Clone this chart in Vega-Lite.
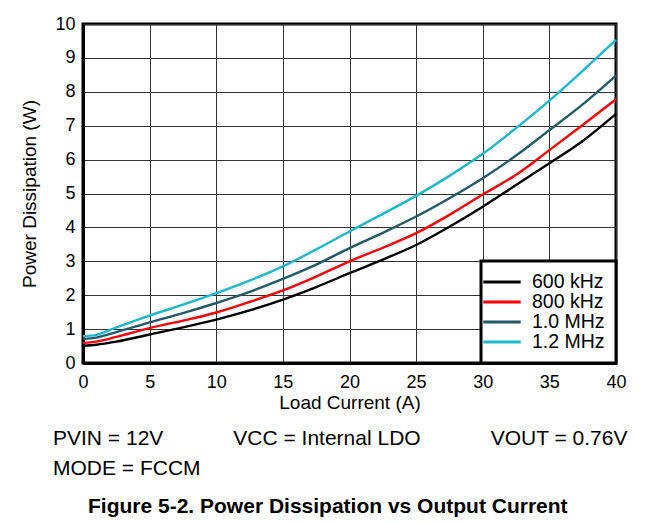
{
  "$schema": "https://vega.github.io/schema/vega-lite/v6.json",
  "width": 533,
  "height": 339,
  "padding": {"left": 20, "top": 15, "right": 30, "bottom": 5},
  "background": "white",
  "config": {
    "font": "Liberation Sans",
    "view": {"stroke": "black", "strokeWidth": 3},
    "axis": {
      "domainColor": "black",
      "domainWidth": 3,
      "gridColor": "#333333",
      "gridWidth": 1,
      "gridOpacity": 1,
      "ticks": false,
      "labelColor": "black",
      "labelFontSize": 18,
      "titleColor": "black",
      "titleFontSize": 19,
      "titleFontWeight": "normal",
      "labelFont": "Liberation Sans",
      "titleFont": "Liberation Sans"
    }
  },
  "title": {
    "text": ["PVIN = 12V\u00a0\u00a0\u00a0\u00a0\u00a0\u00a0\u00a0\u00a0\u00a0\u00a0\u00a0\u00a0VCC = Internal LDO\u00a0\u00a0\u00a0\u00a0\u00a0\u00a0\u00a0\u00a0\u00a0\u00a0\u00a0\u00a0VOUT = 0.76V", "MODE = FCCM"],
    "subtitle": "\u200b\u00a0\u00a0\u00a0\u00a0\u00a0\u00a0Figure 5-2. Power Dissipation vs Output Current",
    "orient": "bottom",
    "anchor": "start",
    "frame": "group",
    "dx": -30,
    "offset": 16,
    "font": "Liberation Sans",
    "fontSize": 21,
    "fontWeight": "normal",
    "color": "black",
    "lineHeight": 30,
    "subtitleFont": "Liberation Sans",
    "subtitleFontSize": 21,
    "subtitleFontWeight": "bold",
    "subtitleColor": "black",
    "subtitlePadding": 17
  },
  "data": {
    "values": [
      {"current": 0, "power": 0.51, "freq": "600 kHz"},
      {"current": 1, "power": 0.54, "freq": "600 kHz"},
      {"current": 2.5, "power": 0.63, "freq": "600 kHz"},
      {"current": 5, "power": 0.84, "freq": "600 kHz"},
      {"current": 7.5, "power": 1.05, "freq": "600 kHz"},
      {"current": 10, "power": 1.28, "freq": "600 kHz"},
      {"current": 12.5, "power": 1.55, "freq": "600 kHz"},
      {"current": 15, "power": 1.87, "freq": "600 kHz"},
      {"current": 17.5, "power": 2.24, "freq": "600 kHz"},
      {"current": 20, "power": 2.65, "freq": "600 kHz"},
      {"current": 22.5, "power": 3.05, "freq": "600 kHz"},
      {"current": 25, "power": 3.48, "freq": "600 kHz"},
      {"current": 27.5, "power": 4.02, "freq": "600 kHz"},
      {"current": 30, "power": 4.61, "freq": "600 kHz"},
      {"current": 32.5, "power": 5.25, "freq": "600 kHz"},
      {"current": 35, "power": 5.89, "freq": "600 kHz"},
      {"current": 37.5, "power": 6.55, "freq": "600 kHz"},
      {"current": 40, "power": 7.35, "freq": "600 kHz"},
      {"current": 0, "power": 0.59, "freq": "800 kHz"},
      {"current": 1, "power": 0.63, "freq": "800 kHz"},
      {"current": 2.5, "power": 0.77, "freq": "800 kHz"},
      {"current": 5, "power": 1.03, "freq": "800 kHz"},
      {"current": 7.5, "power": 1.25, "freq": "800 kHz"},
      {"current": 10, "power": 1.49, "freq": "800 kHz"},
      {"current": 12.5, "power": 1.8, "freq": "800 kHz"},
      {"current": 15, "power": 2.14, "freq": "800 kHz"},
      {"current": 17.5, "power": 2.55, "freq": "800 kHz"},
      {"current": 20, "power": 3.0, "freq": "800 kHz"},
      {"current": 22.5, "power": 3.4, "freq": "800 kHz"},
      {"current": 25, "power": 3.83, "freq": "800 kHz"},
      {"current": 27.5, "power": 4.37, "freq": "800 kHz"},
      {"current": 30, "power": 4.97, "freq": "800 kHz"},
      {"current": 32.5, "power": 5.55, "freq": "800 kHz"},
      {"current": 35, "power": 6.28, "freq": "800 kHz"},
      {"current": 37.5, "power": 7.02, "freq": "800 kHz"},
      {"current": 40, "power": 7.78, "freq": "800 kHz"},
      {"current": 0, "power": 0.71, "freq": "1.0 MHz"},
      {"current": 1, "power": 0.75, "freq": "1.0 MHz"},
      {"current": 2.5, "power": 0.91, "freq": "1.0 MHz"},
      {"current": 5, "power": 1.2, "freq": "1.0 MHz"},
      {"current": 7.5, "power": 1.47, "freq": "1.0 MHz"},
      {"current": 10, "power": 1.77, "freq": "1.0 MHz"},
      {"current": 12.5, "power": 2.1, "freq": "1.0 MHz"},
      {"current": 15, "power": 2.48, "freq": "1.0 MHz"},
      {"current": 17.5, "power": 2.9, "freq": "1.0 MHz"},
      {"current": 20, "power": 3.39, "freq": "1.0 MHz"},
      {"current": 22.5, "power": 3.84, "freq": "1.0 MHz"},
      {"current": 25, "power": 4.32, "freq": "1.0 MHz"},
      {"current": 27.5, "power": 4.86, "freq": "1.0 MHz"},
      {"current": 30, "power": 5.45, "freq": "1.0 MHz"},
      {"current": 32.5, "power": 6.12, "freq": "1.0 MHz"},
      {"current": 35, "power": 6.87, "freq": "1.0 MHz"},
      {"current": 37.5, "power": 7.63, "freq": "1.0 MHz"},
      {"current": 40, "power": 8.48, "freq": "1.0 MHz"},
      {"current": 0, "power": 0.79, "freq": "1.2 MHz"},
      {"current": 1, "power": 0.83, "freq": "1.2 MHz"},
      {"current": 2.5, "power": 1.05, "freq": "1.2 MHz"},
      {"current": 5, "power": 1.4, "freq": "1.2 MHz"},
      {"current": 7.5, "power": 1.72, "freq": "1.2 MHz"},
      {"current": 10, "power": 2.06, "freq": "1.2 MHz"},
      {"current": 12.5, "power": 2.43, "freq": "1.2 MHz"},
      {"current": 15, "power": 2.85, "freq": "1.2 MHz"},
      {"current": 17.5, "power": 3.35, "freq": "1.2 MHz"},
      {"current": 20, "power": 3.88, "freq": "1.2 MHz"},
      {"current": 22.5, "power": 4.4, "freq": "1.2 MHz"},
      {"current": 25, "power": 4.93, "freq": "1.2 MHz"},
      {"current": 27.5, "power": 5.52, "freq": "1.2 MHz"},
      {"current": 30, "power": 6.17, "freq": "1.2 MHz"},
      {"current": 32.5, "power": 6.93, "freq": "1.2 MHz"},
      {"current": 35, "power": 7.74, "freq": "1.2 MHz"},
      {"current": 37.5, "power": 8.62, "freq": "1.2 MHz"},
      {"current": 40, "power": 9.53, "freq": "1.2 MHz"}
    ]
  },
  "mark": {"type": "line", "interpolate": "monotone", "strokeWidth": 2.4},
  "encoding": {
    "x": {
      "field": "current",
      "type": "quantitative",
      "scale": {"domain": [0, 40], "nice": false},
      "axis": {"title": "Load Current (A)", "values": [0, 5, 10, 15, 20, 25, 30, 35, 40], "labelPadding": 10, "titlePadding": 2, "labelFlush": false}
    },
    "y": {
      "field": "power",
      "type": "quantitative",
      "scale": {"domain": [0, 10], "nice": false},
      "axis": {"title": "Power Dissipation (W)", "values": [0, 1, 2, 3, 4, 5, 6, 7, 8, 9, 10], "labelPadding": 8, "titlePadding": 15}
    },
    "color": {
      "field": "freq",
      "type": "nominal",
      "sort": ["600 kHz", "800 kHz", "1.0 MHz", "1.2 MHz"],
      "scale": {"domain": ["600 kHz", "800 kHz", "1.0 MHz", "1.2 MHz"], "range": ["#000000", "#ff0000", "#215a68", "#1cb8cb"]},
      "legend": {
        "title": null,
        "orient": "bottom-right",
        "offset": 0,
        "fillColor": "white",
        "strokeColor": "black",
        "padding": 11,
        "symbolType": "M-2.2,0L2.2,0",
        "symbolSize": 289,
        "symbolStrokeWidth": 3,
        "labelOffset": 20,
        "labelFontSize": 19.5,
        "labelColor": "black",
        "labelFont": "Liberation Sans",
        "rowPadding": 0,
        "encode": {"legend": {"update": {"strokeWidth": {"value": 3}}}}
      }
    }
  }
}
